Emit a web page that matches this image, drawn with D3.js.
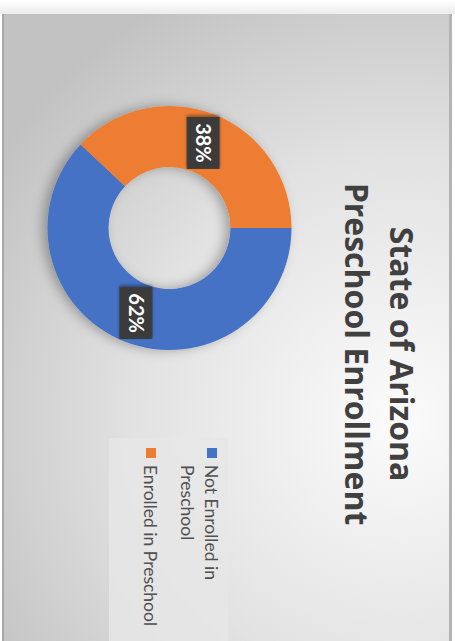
<!DOCTYPE html>
<html>
<head>
<meta charset="utf-8">
<script src="https://cdn.jsdelivr.net/npm/d3@7"></script>
<style>
  html, body { margin: 0; padding: 0; background: #ffffff; }
  svg { display: block; }
</style>
</head>
<body>
<svg id="chart" width="455" height="641"></svg>
<script>
// ---- data ----
const categories = ["Not Enrolled in Preschool", "Enrolled in Preschool"];
const legendLines = [["Not Enrolled in", "Preschool"], ["Enrolled in Preschool"]];
const values = [62, 38];
const valueLabels = ["62%", "38%"];
const colors = ["#4472C4", "#ED7D31"];
const titleLines = ["State of Arizona", "Preschool Enrollment"];

const svg = d3.select("#chart");
const defs = svg.append("defs");

// background gradient
const rg = defs.append("radialGradient").attr("id", "bg")
  .attr("gradientUnits", "userSpaceOnUse")
  .attr("cx", 400).attr("cy", 420).attr("r", 480);
rg.append("stop").attr("offset", "0").attr("stop-color", "#fbfbfb");
rg.append("stop").attr("offset", "0.55").attr("stop-color", "#e2e2e2");
rg.append("stop").attr("offset", "1").attr("stop-color", "#c2c2c2");

const topShade = defs.append("linearGradient").attr("id", "topShade")
  .attr("x1", 0).attr("y1", 0).attr("x2", 0).attr("y2", 1);
topShade.append("stop").attr("offset", "0").attr("stop-color", "#ffffff");
topShade.append("stop").attr("offset", "1").attr("stop-color", "#ececec");

const sh = defs.append("filter").attr("id", "shadow")
  .attr("x", "-30%").attr("y", "-30%").attr("width", "160%").attr("height", "160%");
sh.append("feDropShadow").attr("dx", -5).attr("dy", 0).attr("stdDeviation", 6)
  .attr("flood-color", "#000").attr("flood-opacity", 0.3);

const sh2 = defs.append("filter").attr("id", "shadow2")
  .attr("x", "-30%").attr("y", "-30%").attr("width", "160%").attr("height", "160%");
sh2.append("feDropShadow").attr("dx", -2).attr("dy", 0).attr("stdDeviation", 1.5)
  .attr("flood-color", "#000").attr("flood-opacity", 0.35);

// page top shade
svg.append("rect").attr("x", 0).attr("y", 0).attr("width", 455).attr("height", 14)
  .attr("fill", "url(#topShade)");

// panel
svg.append("rect").attr("x", 2).attr("y", 14).attr("width", 449).attr("height", 627)
  .attr("fill", "url(#bg)");
svg.append("rect").attr("x", 2).attr("y", 14).attr("width", 2).attr("height", 627)
  .attr("fill", "#a8a8a8");
svg.append("rect").attr("x", 449).attr("y", 14).attr("width", 3).attr("height", 627)
  .attr("fill", "#b4b4b4");

// ---- donut ----
const cx = 169.5, cy = 228;
const outerR = 122, innerR = 61;
const pie = d3.pie().sort(null).value(d => d)
  .startAngle(Math.PI / 2).endAngle(Math.PI / 2 + 2 * Math.PI);
const arcs = pie(values);
const arc = d3.arc().innerRadius(innerR).outerRadius(outerR);
const labelArc = d3.arc().innerRadius((innerR + outerR) / 2).outerRadius((innerR + outerR) / 2);

const donut = svg.append("g").attr("transform", `translate(${cx},${cy})`);
donut.append("g").attr("filter", "url(#shadow)")
  .selectAll("path").data(arcs).join("path")
  .attr("d", arc)
  .attr("fill", (d, i) => colors[i]);

// data labels
const lbl = donut.selectAll("g.lbl").data(arcs).join("g").attr("class", "lbl")
  .attr("transform", d => {
    const c = labelArc.centroid(d);
    return `translate(${c[0]},${c[1]}) rotate(90)`;
  });
lbl.append("rect")
  .attr("x", -26).attr("y", -16.5).attr("width", 52).attr("height", 33)
  .attr("fill", "#3a3a3a").attr("filter", "url(#shadow2)");
lbl.append("text")
  .attr("text-anchor", "middle").attr("dy", "0.36em")
  .attr("font-family", "Lato, 'Open Sans', sans-serif")
  .attr("font-weight", "bold").attr("font-size", 20)
  .attr("fill", "#ffffff")
  .text((d, i) => valueLabels[i]);

// ---- title ----
const titleX = [390, 345];
svg.selectAll("text.title").data(titleLines).join("text").attr("class", "title")
  .attr("transform", (d, i) => `translate(${titleX[i]},354) rotate(90)`)
  .attr("text-anchor", "middle")
  .attr("font-family", "'Open Sans', Lato, sans-serif")
  .attr("font-weight", "bold").attr("font-size", 32)
  .attr("fill", "#404040")
  .text(d => d);

// ---- legend ----
const legend = svg.append("g").attr("transform", "translate(228,438) rotate(90)");
legend.append("rect").attr("x", 0).attr("y", 0).attr("width", 203).attr("height", 119)
  .attr("fill", "#e6e6e6").attr("opacity", 0.85);
const entryY = [23, 84];
const entries = legend.selectAll("g.entry").data(categories).join("g").attr("class", "entry");
entries.append("rect")
  .attr("x", 10).attr("y", (d, i) => entryY[i] - 12)
  .attr("width", 10).attr("height", 10)
  .attr("fill", (d, i) => colors[i]);
entries.each(function (d, i) {
  d3.select(this).selectAll("text").data(legendLines[i]).join("text")
    .attr("x", 27).attr("y", (t, j) => entryY[i] + j * 24)
    .attr("font-family", "Lato, 'Open Sans', sans-serif")
    .attr("font-size", 17.5)
    .attr("fill", "#505050")
    .text(t => t);
});
</script>
</body>
</html>
